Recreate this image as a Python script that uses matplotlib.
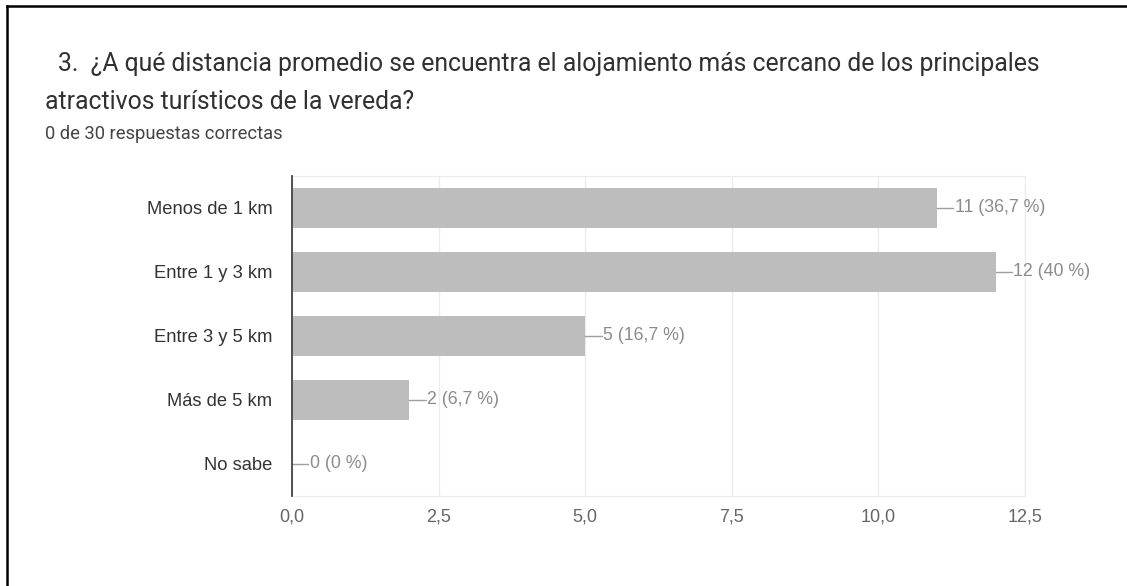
import matplotlib
matplotlib.use('Agg')
import matplotlib.pyplot as plt
import matplotlib.ticker as mticker
from matplotlib.lines import Line2D

plt.rcParams['font.family'] = ['Liberation Sans', 'DejaVu Sans']

title_1 = '3.  ¿A qué distancia promedio se encuentra el alojamiento más cercano de los principales'
title_2 = 'atractivos turísticos de la vereda?'
subtitle = '0 de 30 respuestas correctas'

categories = ['Menos de 1 km', 'Entre 1 y 3 km', 'Entre 3 y 5 km', 'Más de 5 km', 'No sabe']
counts = [11, 12, 5, 2, 0]
percents = ['36,7', '40', '16,7', '6,7', '0']
x_ticks = [0, 2.5, 5, 7.5, 10, 12.5]

W, H = 1127, 586
fig = plt.figure(figsize=(W / 100, H / 100), dpi=100)
fig.patch.set_facecolor('white')

# screenshot frame (left and top edges only)
fig.add_artist(Line2D([7 / W, 7 / W], [0, 1 - 6 / H], color='black', lw=1.8))
fig.add_artist(Line2D([7 / W, 1], [1 - 6 / H, 1 - 6 / H], color='black', lw=1.8))

title_font = ['Roboto', 'DejaVu Sans']
fig.text(58 / W, 1 - 71 / H, title_1, fontsize=17.8, color='#303030',
         va='baseline', family=title_font)
fig.text(45 / W, 1 - 109 / H, title_2, fontsize=17.8, color='#303030',
         va='baseline', family=title_font)
fig.text(45 / W, 1 - 139 / H, subtitle, fontsize=13.2, color='#444444',
         va='baseline', family=title_font)

ax = fig.add_axes([292 / W, 1 - 496 / H, 733 / W, 320 / H])
y = list(range(len(categories)))
ax.barh(y, counts, height=0.625, color='#bdbdbd', zorder=2)
ax.set_ylim(len(categories) - 0.5, -0.5)
ax.set_xlim(0, 12.5)
ax.set_yticks(y)
ax.set_yticklabels(categories, fontsize=13.2, color='#333333')
ax.set_xticks(x_ticks)
ax.xaxis.set_major_formatter(mticker.FuncFormatter(
    lambda v, p: ('%.1f' % v).replace('.', ',')))
ax.tick_params(axis='x', length=0, pad=9, labelsize=13, labelcolor='#666666')
ax.tick_params(axis='y', length=0, pad=14)
ax.grid(axis='x', color='#ececec', lw=1, zorder=0)

for s in ['top', 'right', 'bottom']:
    ax.spines[s].set_color('#ececec')
ax.spines['left'].set_color('#444444')
ax.spines['left'].set_linewidth(1.3)
ax.spines['left'].set_zorder(4)

for i, (c, p) in enumerate(zip(counts, percents)):
    ax.plot([c, c + 0.28], [i, i], color='#a0a0a0', lw=1, zorder=3, clip_on=False)
    ax.text(c + 0.3, i, '%d (%s %%)' % (c, p), fontsize=12.8, color='#8c8c8c',
            va='center', ha='left', zorder=3)

fig.savefig('out.png', dpi=100, facecolor='white')
